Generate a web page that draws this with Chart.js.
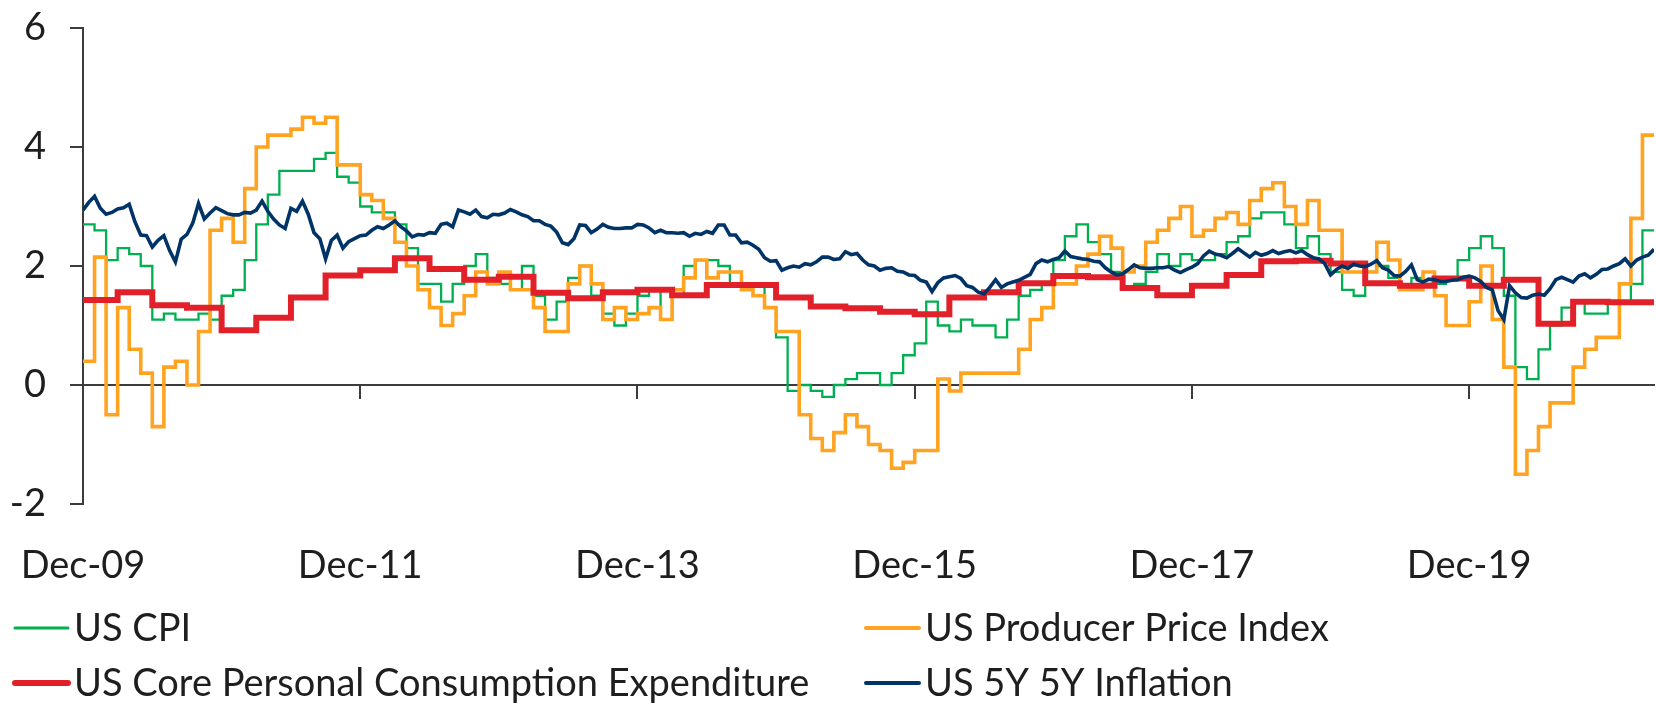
<!DOCTYPE html>
<html>
<head>
<meta charset="utf-8">
<script src="https://cdn.jsdelivr.net/npm/chart.js@4.4.1/dist/chart.umd.min.js"></script>
<style>
  html, body { margin: 0; padding: 0; background: #fff; }
  #wrap { width: 1656px; height: 707px; }
</style>
</head>
<body>
<div id="wrap"><canvas id="graph" width="1656" height="707"></canvas></div>
<script>
// x = months after Dec-09
const tickLabels = ["Dec-09", "Dec-11", "Dec-13", "Dec-15", "Dec-17", "Dec-19"];
const seriesNames = ["US CPI", "US Producer Price Index", "US Core Personal Consumption Expenditure", "US 5Y 5Y Inflation"];

// monthly, Dec-09 .. Mar-21
const cpi = [
  2.7, 2.6, 2.1, 2.3, 2.2, 2.0, 1.1, 1.2, 1.1, 1.1, 1.2, 1.1,
  1.5, 1.6, 2.1, 2.7, 3.2, 3.6, 3.6, 3.6, 3.8, 3.9, 3.5, 3.4,
  3.0, 2.9, 2.9, 2.7, 2.3, 1.7, 1.7, 1.4, 1.7, 2.0, 2.2, 1.8,
  1.7, 1.6, 2.0, 1.5, 1.1, 1.4, 1.8, 2.0, 1.5, 1.2, 1.0, 1.2,
  1.5, 1.6, 1.1, 1.5, 2.0, 2.1, 2.1, 2.0, 1.7, 1.7, 1.7, 1.3,
  0.8, -0.1, 0.0, -0.1, -0.2, 0.0, 0.1, 0.2, 0.2, 0.0, 0.2, 0.5,
  0.7, 1.4, 1.0, 0.9, 1.1, 1.0, 1.0, 0.8, 1.1, 1.5, 1.6, 1.7,
  2.1, 2.5, 2.7, 2.4, 2.2, 1.9, 1.6, 1.7, 1.9, 2.2, 2.0, 2.2,
  2.1, 2.1, 2.2, 2.4, 2.5, 2.8, 2.9, 2.9, 2.7, 2.3, 2.5, 2.2,
  1.9, 1.6, 1.5, 1.9, 2.0, 1.8, 1.6, 1.8, 1.7, 1.7, 1.8, 2.1,
  2.3, 2.5, 2.3, 1.5, 0.3, 0.1, 0.6, 1.0, 1.3, 1.4, 1.2, 1.2,
  1.4, 1.4, 1.7, 2.6
];

const ppi = [
  0.4, 2.15, -0.5, 1.3, 0.6, 0.2, -0.7, 0.3, 0.4, 0.0, 0.9, 2.6,
  2.8, 2.4, 3.3, 4.0, 4.2, 4.2, 4.3, 4.5, 4.4, 4.5, 3.7, 3.7,
  3.2, 3.1, 2.8, 2.4, 2.0, 1.6, 1.3, 1.0, 1.2, 1.5, 1.9, 1.7,
  1.9, 1.6, 1.6, 1.3, 0.9, 0.9, 1.7, 2.0, 1.7, 1.1, 1.3, 1.1,
  1.2, 1.3, 1.1, 1.6, 1.8, 2.1, 1.8, 1.9, 1.9, 1.6, 1.5, 1.3,
  0.9, 0.9, -0.5, -0.9, -1.1, -0.8, -0.5, -0.7, -1.0, -1.1, -1.4, -1.3,
  -1.1, -1.1, 0.1, -0.1, 0.2, 0.2, 0.2, 0.2, 0.2, 0.6, 1.1, 1.3,
  1.7, 1.7, 2.0, 2.2, 2.5, 2.3, 1.9, 2.0, 2.4, 2.6, 2.8, 3.0,
  2.5, 2.6, 2.8, 2.9, 2.7, 3.1, 3.3, 3.4, 3.0, 2.7, 3.1, 2.6,
  2.6, 1.9, 1.9, 1.9, 2.4, 2.1, 1.6, 1.6, 1.9, 1.5, 1.0, 1.0,
  1.4, 2.0, 1.1, 0.3, -1.5, -1.1, -0.7, -0.3, -0.3, 0.3, 0.6, 0.8,
  0.8, 1.7, 2.8, 4.2
];

// quarterly, Dec-09 .. Mar-21
const corePce = [
  1.43, 1.56, 1.34, 1.30, 0.92, 1.13, 1.47, 1.84, 1.93, 2.13, 1.95, 1.77,
  1.82, 1.55, 1.46, 1.56, 1.60, 1.51, 1.68, 1.68, 1.47, 1.32, 1.29, 1.23,
  1.19, 1.47, 1.56, 1.71, 1.83, 1.81, 1.63, 1.51, 1.67, 1.85, 2.08, 2.09,
  2.04, 1.71, 1.67, 1.79, 1.67, 1.77, 1.03, 1.40, 1.39, 1.39
];

// twice a month, Dec-09 .. Apr-21
const fiveYFiveY = [
  2.94, 3.07, 3.17, 2.97, 2.87, 2.90, 2.96, 2.98, 3.04, 2.74, 2.52, 2.51,
  2.32, 2.43, 2.51, 2.26, 2.07, 2.45, 2.53, 2.72, 3.05, 2.79, 2.89, 2.98,
  2.93, 2.88, 2.86, 2.86, 2.90, 2.89, 2.94, 3.09, 2.92, 2.79, 2.69, 2.63,
  2.97, 2.92, 3.09, 2.87, 2.56, 2.46, 2.12, 2.43, 2.52, 2.30, 2.41, 2.46,
  2.51, 2.52, 2.60, 2.66, 2.63, 2.69, 2.76, 2.66, 2.59, 2.49, 2.53, 2.52,
  2.56, 2.55, 2.70, 2.72, 2.66, 2.94, 2.91, 2.87, 2.94, 2.83, 2.81, 2.87,
  2.86, 2.89, 2.95, 2.91, 2.86, 2.83, 2.76, 2.76, 2.70, 2.67, 2.57, 2.39,
  2.36, 2.46, 2.69, 2.68, 2.56, 2.62, 2.70, 2.65, 2.63, 2.63, 2.64, 2.64,
  2.70, 2.69, 2.64, 2.56, 2.60, 2.56, 2.56, 2.55, 2.56, 2.50, 2.55, 2.53,
  2.58, 2.55, 2.69, 2.69, 2.52, 2.52, 2.39, 2.40, 2.35, 2.28, 2.14, 2.08,
  2.09, 1.93, 1.97, 2.00, 1.98, 2.04, 2.02, 2.07, 2.15, 2.15, 2.11, 2.12,
  2.24, 2.19, 2.21, 2.10, 2.02, 2.00, 1.93, 1.96, 1.97, 1.91, 1.90, 1.85,
  1.84, 1.76, 1.73, 1.57, 1.72, 1.80, 1.82, 1.84, 1.79, 1.67, 1.64, 1.56,
  1.53, 1.64, 1.77, 1.64, 1.70, 1.73, 1.76, 1.81, 1.86, 2.04, 2.10, 2.07,
  2.11, 2.14, 2.25, 2.16, 2.14, 2.12, 2.11, 2.08, 2.07, 1.97, 1.90, 1.85,
  1.87, 1.94, 2.02, 1.97, 1.96, 1.96, 1.97, 1.97, 1.99, 1.93, 1.89, 1.94,
  1.98, 2.04, 2.17, 2.25, 2.20, 2.18, 2.14, 2.21, 2.29, 2.22, 2.15, 2.23,
  2.18, 2.21, 2.26, 2.21, 2.24, 2.26, 2.22, 2.26, 2.19, 2.14, 2.12, 2.04,
  1.85, 1.94, 2.00, 1.96, 2.03, 2.00, 1.99, 2.03, 2.09, 1.97, 1.93, 1.84,
  1.83, 1.91, 2.02, 1.77, 1.73, 1.78, 1.77, 1.74, 1.74, 1.76, 1.77, 1.81,
  1.83, 1.80, 1.74, 1.64, 1.60, 1.25, 1.10, 1.67, 1.55, 1.47, 1.46, 1.51,
  1.53, 1.51, 1.62, 1.77, 1.81, 1.77, 1.73, 1.83, 1.87, 1.80, 1.86, 1.94,
  1.95, 2.00, 2.04, 2.12, 2.00, 2.10, 2.15, 2.18, 2.28
];

const lastMonth = 136;
const textColor = "#1e1e1e";
const axisColor = "#3c3c3c";
const fontFamily = "Lato, 'Open Sans', sans-serif";
const fontSize = 38;

// step series: each value holds until the next one, the last one runs to the end
function steps(values, every) {
  const pts = values.map((v, i) => ({ x: i * every, y: v }));
  pts.push({ x: lastMonth, y: values[values.length - 1] });
  return pts;
}

// no label overhang padding, the plot box is fixed by layout padding and axis sizes
function noOverhang(s) {
  s.paddingTop = 0;
  s.paddingBottom = 0;
  s.paddingLeft = 0;
  s.paddingRight = 0;
}

const legendPlugin = {
  id: "twoColLegend",
  afterDraw(chart) {
    const ctx = chart.ctx;
    const cols = [15, 866];
    const rows = [628, 683];
    chart.data.datasets.forEach((ds, i) => {
      const x = cols[i % 2];
      const y = rows[Math.floor(i / 2)];
      ctx.save();
      ctx.strokeStyle = ds.borderColor;
      ctx.lineWidth = ds.legendWidth;
      ctx.lineCap = "round";
      ctx.beginPath();
      ctx.moveTo(x, y);
      ctx.lineTo(x + 53, y);
      ctx.stroke();
      ctx.fillStyle = textColor;
      ctx.font = fontSize + "px " + fontFamily;
      ctx.textBaseline = "middle";
      ctx.fillText(ds.label, x + 59, y + 1);
      ctx.restore();
    });
  }
};

function draw() {
  new Chart(document.getElementById("graph"), {
    type: "line",
    data: {
      datasets: [
        {
          label: seriesNames[0],
          data: steps(cpi, 1),
          borderColor: "#00b050",
          borderWidth: 2.3,
          legendWidth: 3,
          stepped: true,
          order: 3
        },
        {
          label: seriesNames[1],
          data: steps(ppi, 1),
          borderColor: "#ffa321",
          borderWidth: 3.6,
          legendWidth: 4,
          stepped: true,
          order: 2
        },
        {
          label: seriesNames[2],
          data: steps(corePce, 3),
          borderColor: "#e2202a",
          borderWidth: 6,
          legendWidth: 6,
          stepped: true,
          order: 1
        },
        {
          label: seriesNames[3],
          data: fiveYFiveY.map((v, i) => ({ x: i / 2, y: v })),
          borderColor: "#003366",
          borderWidth: 3.6,
          legendWidth: 4,
          order: 0
        }
      ]
    },
    options: {
      responsive: false,
      animation: false,
      devicePixelRatio: 1,
      elements: { point: { radius: 0 }, line: { tension: 0, borderJoinStyle: "miter" } },
      layout: { padding: { left: 0, right: 2, top: 28, bottom: 0 } },
      plugins: { legend: { display: false }, tooltip: { enabled: false } },
      scales: {
        x: {
          type: "linear",
          position: "bottom",
          min: 0,
          max: lastMonth,
          afterFit: s => { s.height = 203; noOverhang(s); },
          border: { display: false },
          grid: { display: false, drawTicks: false },
          ticks: {
            stepSize: 24,
            includeBounds: false,
            autoSkip: false,
            maxRotation: 0,
            padding: 39,
            color: textColor,
            font: { family: fontFamily, size: fontSize },
            callback: v => tickLabels[v / 24] || ""
          }
        },
        xZero: {
          type: "linear",
          position: { y: 0 },
          min: 0,
          max: lastMonth,
          afterFit: noOverhang,
          border: { display: true, color: axisColor, width: 2 },
          grid: { drawOnChartArea: false, drawTicks: true, tickLength: 13, color: axisColor, lineWidth: 2 },
          ticks: { display: false, stepSize: 24, includeBounds: false }
        },
        y: {
          min: -2,
          max: 6,
          afterFit: s => { s.width = 83; noOverhang(s); },
          border: { display: true, color: axisColor, width: 2 },
          grid: { drawOnChartArea: false, drawTicks: true, tickLength: 13, color: axisColor, lineWidth: 2 },
          ticks: {
            stepSize: 2,
            padding: 24,
            color: textColor,
            font: { family: fontFamily, size: fontSize }
          }
        }
      }
    },
    plugins: [legendPlugin]
  });
}

document.fonts.load(fontSize + "px Lato").then(draw, draw);
</script>
</body>
</html>
